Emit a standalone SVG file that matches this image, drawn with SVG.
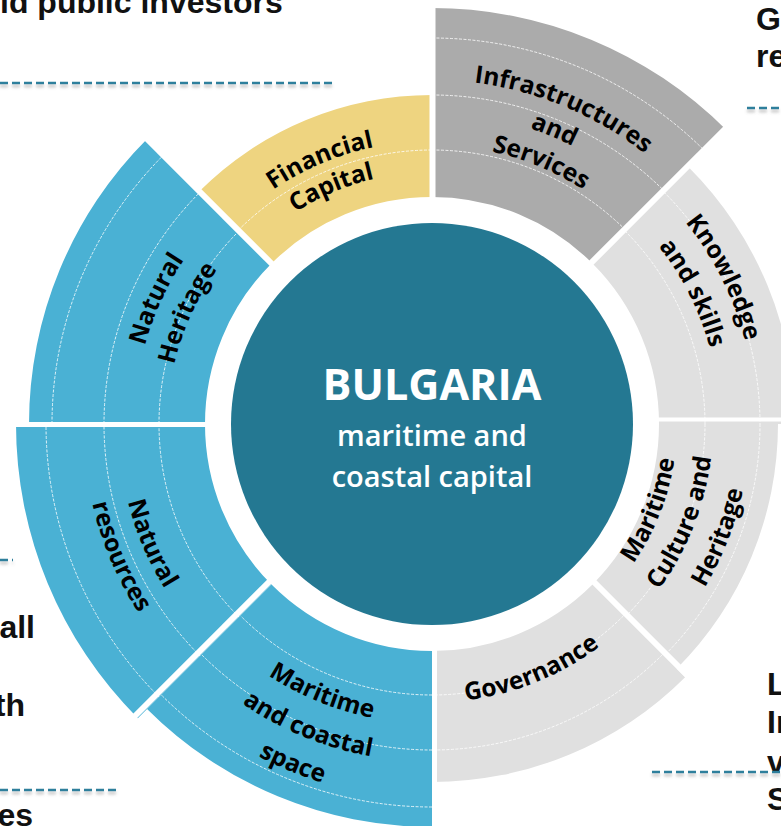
<svg xmlns="http://www.w3.org/2000/svg" width="781" height="826" viewBox="0 0 781 826">
<style>
.side{font-family:"Liberation Sans",Arial,sans-serif;font-weight:700;font-size:32px;fill:#111}
.dash{fill:none;stroke:#2E7F9C;stroke-width:2.5;stroke-dasharray:8 4}
.ring{fill:none;stroke:#fff;stroke-width:1;stroke-dasharray:3 1.5;opacity:0.8}
.div{fill:none;stroke:#fff;stroke-width:6}
.lbl{font-family:"Open Sans","Noto Sans",sans-serif;font-weight:700;font-size:24.5px;fill:#000;text-anchor:middle}
.blue{fill:#4AB1D4}
.lgray{fill:#E0E0E0}
.ctr{font-family:"Open Sans","Noto Sans",sans-serif;fill:#fff;text-anchor:middle}
</style>
<defs>
<filter id="sh" x="-5%" y="-200%" width="110%" height="500%">
<feDropShadow dx="0" dy="3" stdDeviation="1.5" flood-color="#777" flood-opacity="0.45"/>
</filter>
<path id="o344" d="M-297.9,-172 A344,344 0 0 1 297.9,-172"/>
<path id="o311" d="M-269.76,-155.75 A311.5,311.5 0 0 1 269.76,-155.75"/>
<path id="o279" d="M-241.61,-139.5 A279,279 0 0 1 241.61,-139.5"/>
<path id="o283" d="M-245.08,-141.5 A283,283 0 0 1 245.08,-141.5"/>
<path id="o252" d="M-218.23,-126 A252,252 0 0 1 218.23,-126"/>
<path id="o297" d="M-257.64,-148.75 A297.5,297.5 0 0 1 257.64,-148.75"/>
<path id="o264" d="M-229.06,-132.25 A264.5,264.5 0 0 1 229.06,-132.25"/>
<path id="o324" d="M-280.58,-162 A324,324 0 0 1 280.58,-162"/>
<path id="o288" d="M-249.41,-144 A288,288 0 0 1 249.41,-144"/>
<path id="i314" d="M-271.92,157 A314,314 0 0 0 271.92,157"/>
<path id="i349" d="M-302.23,174.5 A349,349 0 0 0 302.23,174.5"/>
<path id="i300" d="M-259.8,150 A300,300 0 0 0 259.8,150"/>
<path id="i338" d="M-292.71,169 A338,338 0 0 0 292.71,169"/>
<path id="i375" d="M-324.75,187.5 A375,375 0 0 0 324.75,187.5"/>
<path id="i278" d="M-241.18,139.25 A278.5,278.5 0 0 0 241.18,139.25"/>
<path id="i245" d="M-212.17,122.5 A245,245 0 0 0 212.17,122.5"/>
<path id="i281" d="M-243.35,140.5 A281,281 0 0 0 243.35,140.5"/>
<path id="i318" d="M-275.39,159 A318,318 0 0 0 275.39,159"/>
</defs>
<rect width="781" height="826" fill="#fff"/>

<g id="side-texts">
<text class="side" x="0" y="13">id public investors</text>
<text class="side" x="756" y="30">G</text>
<text class="side" x="756" y="67">re</text>
<text class="side" x="35" y="638" text-anchor="end">all</text>
<text class="side" x="25" y="716" text-anchor="end">th</text>
<text class="side" x="33" y="826" text-anchor="end">es</text>
<text class="side" x="767" y="695">L</text>
<text class="side" x="767" y="733">In</text>
<text class="side" x="767" y="773">v</text>
<text class="side" x="767" y="810">S</text>
</g>

<g id="separators" filter="url(#sh)">
<path class="dash" d="M0,83 H335"/>
<path class="dash" d="M747,108 H781"/>
<path class="dash" d="M0,560 H13"/>
<path class="dash" d="M0,790 H117"/>
<path class="dash" d="M652,772 H781"/>
</g>

<g id="infrastructures">
<path fill="#ABABAB" d="M432,8 A416,416 0 0 1 726.16,129.84 L592.51,263.49 A227,227 0 0 0 432,197 Z"/>
<path class="ring" d="M432,150 A274,274 0 0 1 625.75,230.25 M432,95 A329,329 0 0 1 664.64,191.36 M432,38 A386,386 0 0 1 704.94,151.06"/>
<g transform="translate(432,424) rotate(22.6)">
<text class="lbl"><textPath href="#o344" startOffset="50%">Infrastructures</textPath></text>
<text class="lbl"><textPath href="#o311" startOffset="50%">and</textPath></text>
<text class="lbl"><textPath href="#o279" startOffset="50%">Services</textPath></text>
</g>
</g>

<g id="knowledge">
<path class="lgray" d="M688.68,167.32 A363,363 0 0 1 795,424 L659,424 A227,227 0 0 0 592.51,263.49 Z"/>
<path class="ring" d="M625.04,230.96 A273,273 0 0 1 705,424 M663.93,192.07 A328,328 0 0 1 760,424"/>
<g transform="translate(432,424) rotate(63.3)">
<text class="lbl"><textPath href="#o324" startOffset="50%">Knowledge</textPath></text>
<text class="lbl"><textPath href="#o288" startOffset="50%">and skills</textPath></text>
</g>
</g>

<g id="culture">
<path class="lgray" d="M778,424 A346,346 0 0 1 676.66,668.66 L592.51,584.51 A227,227 0 0 0 659,424 Z"/>
<path class="ring" d="M705,424 A273,273 0 0 1 625.04,617.04 M760,424 A328,328 0 0 1 663.93,655.93"/>
<g transform="translate(432,424) rotate(-68.5)">
<text class="lbl"><textPath href="#i245" startOffset="50%">Maritime</textPath></text>
<text class="lbl"><textPath href="#i281" startOffset="50%">Culture and</textPath></text>
<text class="lbl"><textPath href="#i318" startOffset="50%">Heritage</textPath></text>
</g>
</g>

<g id="governance">
<path class="lgray" d="M685.14,677.14 A358,358 0 0 1 432,782 L432,651 A227,227 0 0 0 592.51,584.51 Z"/>
<path class="ring" d="M623.63,615.63 A271,271 0 0 1 432,695 M662.52,654.52 A326,326 0 0 1 432,750"/>
<g transform="translate(432,424) rotate(-22)">
<text class="lbl"><textPath href="#i278" startOffset="50%">Governance</textPath></text>
</g>
</g>

<g id="maritime-space">
<path class="blue" d="M432,827 A403,403 0 0 1 147.04,708.96 L271.49,584.51 A227,227 0 0 0 432,651 Z"/>
<path class="ring" d="M432,695 A271,271 0 0 1 240.37,615.63 M432,750 A326,326 0 0 1 201.48,654.52 M432,807 A383,383 0 0 1 161.18,694.82"/>
<g transform="translate(432,424) rotate(22.3)">
<text class="lbl"><textPath href="#i300" startOffset="50%">Maritime</textPath></text>
<text class="lbl"><textPath href="#i338" startOffset="50%">and coastal</textPath></text>
<text class="lbl"><textPath href="#i375" startOffset="50%">space</textPath></text>
</g>
</g>

<g id="natural-resources">
<path class="blue" d="M137.84,718.16 A416,416 0 0 1 16,424 L205,424 A227,227 0 0 0 271.49,584.51 Z"/>
<path class="ring" d="M238.96,617.04 A273,273 0 0 1 159,424 M200.07,655.93 A328,328 0 0 1 104,424 M159.06,696.94 A386,386 0 0 1 46,424"/>
<g transform="translate(432,424) rotate(67)">
<text class="lbl"><textPath href="#i314" startOffset="50%">Natural</textPath></text>
<text class="lbl"><textPath href="#i349" startOffset="50%">resources</textPath></text>
</g>
</g>

<g id="natural-heritage">
<path class="blue" d="M29,424 A403,403 0 0 1 147.04,139.04 L271.49,263.49 A227,227 0 0 0 205,424 Z"/>
<path class="ring" d="M159,424 A273,273 0 0 1 238.96,230.96 M104,424 A328,328 0 0 1 200.07,192.07 M52,424 A380,380 0 0 1 163.3,155.3"/>
<g transform="translate(432,424) rotate(-65.6)">
<text class="lbl"><textPath href="#o297" startOffset="50%">Natural</textPath></text>
<text class="lbl"><textPath href="#o264" startOffset="50%">Heritage</textPath></text>
</g>
</g>

<g id="financial-capital">
<path fill="#EED480" d="M199.36,191.36 A329,329 0 0 1 432,95 L432,197 A227,227 0 0 0 271.49,263.49 Z"/>
<path class="ring" d="M238.25,230.25 A274,274 0 0 1 432,150"/>
<g transform="translate(432,424) rotate(-23)">
<text class="lbl"><textPath href="#o283" startOffset="50%">Financial</textPath></text>
<text class="lbl"><textPath href="#o252" startOffset="50%">Capital</textPath></text>
</g>
</g>

<g id="dividers">
<path class="div" d="M432.5,215 V-2"/>
<path class="div" d="M575,279 L735,119"/>
<path class="div" style="stroke-width:4" d="M637,419.5 H790"/>
<path class="div" d="M581,569 L741,729"/>
<path class="div" style="stroke-width:5" d="M434.5,629 V830"/>
<path class="div" d="M282,569 L122,729"/>
<path class="div" style="stroke-width:5" d="M227,424.5 H0"/>
<path class="div" d="M287,279 L127,119"/>
</g>

<g id="center">
<circle cx="432" cy="424" r="201" fill="#247892"/>
<text class="ctr" x="432" y="400" style="font-weight:700;font-size:43px">BULGARIA</text>
<text class="ctr" x="432" y="446" style="font-weight:600;font-size:29px">maritime and</text>
<text class="ctr" x="432" y="487" style="font-weight:600;font-size:29px">coastal capital</text>
</g>
</svg>
